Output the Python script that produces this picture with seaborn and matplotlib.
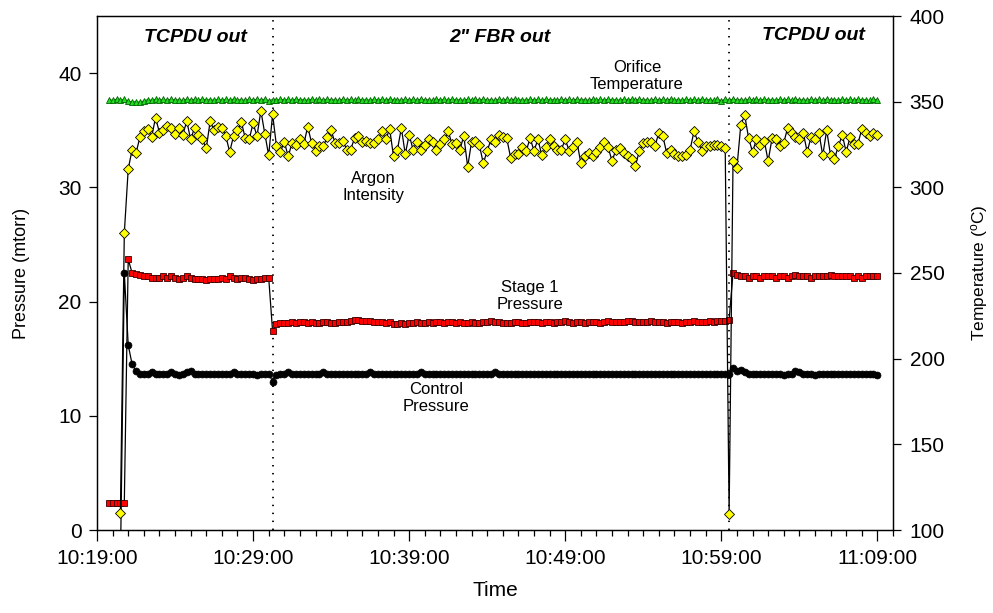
import numpy as np
import pandas as pd
import matplotlib
matplotlib.use("Agg")
import matplotlib.pyplot as plt
import matplotlib.dates as mdates
import seaborn as sns

# ---------------- data ----------------
start_time = "2000-01-01 10:19:45"
n_points = 198
sample_period = "15s"

argon_intensity = [
    np.nan, np.nan, np.nan, 1.5, 26.0,
    31.6, 33.3, 33.0, 34.4, 34.9, 35.1, 34.4, 36.1, 34.8, 35.0,
    35.4, 35.2, 34.7, 35.2, 34.6, 35.8, 34.2, 35.2, 34.6, 34.2,
    33.4, 35.8, 35.0, 35.3, 35.2, 34.5, 33.1, 34.5, 35.0, 35.7,
    34.3, 34.2, 35.6, 34.5, 36.7, 34.7, 32.8, 36.4, 33.6, 33.1,
    34.0, 32.7, 33.9, 33.7, 34.2, 33.8, 35.3, 33.9, 33.2, 33.6,
    33.6, 34.4, 35.0, 33.9, 33.9, 34.1, 33.3, 33.3, 34.3, 34.5,
    34.0, 34.1, 33.9, 33.9, 34.2, 34.9, 34.2, 35.1, 32.7, 33.3,
    35.2, 32.9, 34.6, 33.3, 34.0, 33.3, 33.7, 34.2, 34.0, 33.3,
    33.8, 34.2, 34.9, 33.8, 33.9, 33.3, 34.5, 31.8, 34.0, 34.1,
    33.7, 32.1, 33.2, 34.2, 34.0, 34.6, 34.4, 34.3, 32.6, 32.9,
    32.9, 33.5, 33.2, 34.3, 33.2, 34.2, 32.8, 33.5, 34.2, 33.6,
    33.3, 33.3, 34.2, 33.2, 33.5, 34.0, 32.1, 32.7, 33.0, 32.7,
    33.1, 33.5, 34.0, 33.5, 32.3, 33.3, 33.4, 33.0, 32.7, 32.5,
    31.9, 33.2, 33.9, 34.0, 34.0, 33.6, 34.8, 34.5, 33.0, 33.3,
    32.9, 32.7, 32.7, 32.8, 33.3, 34.9, 34.0, 33.2, 33.6, 33.6,
    33.7, 33.7, 33.6, 33.4, 1.4, 32.3, 31.7, 35.5, 36.3, 34.3,
    33.1, 34.2, 33.7, 34.1, 32.3, 34.3, 34.2, 33.6, 33.9, 35.2,
    34.8, 34.4, 34.2, 34.8, 33.1, 34.4, 34.2, 34.8, 32.8, 35.0,
    32.8, 32.5, 33.6, 34.6, 33.1, 34.4, 33.8, 33.8, 35.1, 34.8,
    34.5, 34.8, 34.6,
]

stage1_pressure = [
    2.4, 2.4, 2.4, 2.4, 2.4,
    23.7, 22.5, 22.4,
    22.3, 22.2, 22.2, 22.1, 22.1, 22.1, 22.2, 22.1, 22.2, 22.1,
    22.0, 22.1, 22.2, 22.1, 22.0, 22.0, 22.0, 21.9, 22.0, 22.0,
    22.0, 22.1, 22.0, 22.2, 22.1, 22.0, 22.1, 22.1, 22.0, 21.9,
    22.0, 22.0, 22.1, 22.1,
    17.4,
    18.0, 18.1, 18.1, 18.1, 18.2, 18.1, 18.2, 18.2, 18.1, 18.2,
    18.1, 18.1, 18.2, 18.2, 18.1, 18.1, 18.2, 18.2, 18.2, 18.3,
    18.4, 18.4, 18.3, 18.3, 18.3, 18.2, 18.2, 18.2, 18.1, 18.2,
    18.0, 18.0, 18.1, 18.0, 18.1, 18.1, 18.2, 18.1, 18.1, 18.2,
    18.1, 18.2, 18.2, 18.1, 18.2, 18.2, 18.1, 18.2, 18.1, 18.1,
    18.2, 18.1, 18.1, 18.2, 18.2, 18.3, 18.2, 18.2, 18.1, 18.1,
    18.1, 18.2, 18.2, 18.1, 18.1, 18.2, 18.2, 18.2, 18.1, 18.2,
    18.2, 18.1, 18.2, 18.2, 18.3, 18.2, 18.1, 18.2, 18.2, 18.1,
    18.2, 18.2, 18.2, 18.1, 18.2, 18.3, 18.2, 18.2, 18.2, 18.2,
    18.3, 18.3, 18.2, 18.2, 18.2, 18.2, 18.3, 18.2, 18.2, 18.2,
    18.1, 18.2, 18.2, 18.2, 18.1, 18.2, 18.2, 18.3, 18.2, 18.2,
    18.2, 18.3, 18.2, 18.3, 18.3, 18.3,
    18.4, 22.5,
    22.3, 22.2, 22.2, 22.1, 22.2, 22.2, 22.1, 22.2, 22.2, 22.2,
    22.1, 22.2, 22.2, 22.1, 22.2, 22.3, 22.2, 22.2, 22.2, 22.1,
    22.2, 22.2, 22.2, 22.2, 22.3, 22.2, 22.2, 22.2, 22.2, 22.2,
    22.1, 22.2, 22.1, 22.2, 22.2, 22.2, 22.2,
]

control_pressure = [
    -3.0, -3.0, -3.0, -3.0,
    22.5, 16.2, 14.5, 13.9,
    13.7, 13.7, 13.7, 13.8, 13.7, 13.7, 13.7, 13.7, 13.8, 13.7,
    13.6, 13.7, 13.8, 13.9, 13.7, 13.7, 13.7, 13.7, 13.7, 13.7,
    13.7, 13.7, 13.7, 13.7, 13.8, 13.7, 13.7, 13.7, 13.7, 13.7,
    13.6, 13.7, 13.7, 13.7,
    13.0, 13.6,
    13.7, 13.7, 13.8, 13.7, 13.7, 13.7, 13.7, 13.7, 13.7, 13.7,
    13.7, 13.8, 13.7, 13.7, 13.7, 13.7, 13.7, 13.7, 13.7, 13.7,
    13.7, 13.7, 13.7, 13.8, 13.7, 13.7, 13.7, 13.7, 13.7, 13.7,
    13.7, 13.7, 13.7, 13.7, 13.7, 13.7, 13.8, 13.7, 13.7, 13.7,
    13.7, 13.7, 13.7, 13.7, 13.7, 13.7, 13.7, 13.7, 13.7, 13.7,
    13.7, 13.7, 13.7, 13.7, 13.7, 13.8, 13.7, 13.7, 13.7, 13.7,
    13.7, 13.7, 13.7, 13.7, 13.7, 13.7, 13.7, 13.7, 13.7, 13.7,
    13.7, 13.7, 13.7, 13.7, 13.7, 13.7, 13.7, 13.7, 13.7, 13.7,
    13.7, 13.7, 13.7, 13.7, 13.7, 13.7, 13.7, 13.7, 13.7, 13.7,
    13.7, 13.7, 13.7, 13.7, 13.7, 13.7, 13.7, 13.7, 13.7, 13.7,
    13.7, 13.7, 13.7, 13.7, 13.7, 13.7, 13.7, 13.7, 13.7, 13.7,
    13.7, 13.7, 13.7, 13.7, 13.7, 13.7,
    14.2, 13.9, 14.0,
    13.8, 13.7, 13.7, 13.7, 13.7, 13.7, 13.7, 13.7, 13.7, 13.7,
    13.6, 13.7, 13.7, 13.9, 13.8, 13.7, 13.7, 13.7, 13.6, 13.7,
    13.7, 13.7, 13.7, 13.7, 13.7, 13.7, 13.7, 13.7, 13.7, 13.7,
    13.7, 13.7, 13.7, 13.7, 13.6,
]

orifice_temperature = [
    351.2, 350.8, 351.4, 350.9, 351.3, 350.2, 349.8, 350.0, 349.7, 350.4,
    351.2, 350.8, 351.4, 350.9, 351.3, 350.8, 351.5, 350.9, 351.2, 350.7,
    351.4, 350.9, 351.3, 350.8, 351.5, 350.9, 351.2, 350.8, 351.4, 350.9,
    351.3, 350.8, 351.5, 350.9, 351.2, 350.7, 351.4, 350.9, 351.3, 350.8,
    351.5, 350.6, 351.2, 350.8, 351.4, 350.9, 351.3, 350.8, 351.5, 350.9,
    351.2, 350.8, 351.4, 350.9, 351.3, 350.8, 351.5, 350.9, 351.2, 350.7,
    351.4, 350.9, 351.3, 350.8, 351.5, 350.9, 351.2, 350.8, 351.4, 350.9,
    351.3, 350.8, 351.5, 350.9, 351.2, 350.7, 351.4, 350.9, 351.3, 350.8,
    351.5, 350.9, 351.2, 350.8, 351.4, 350.9, 351.3, 350.8, 351.5, 350.9,
    351.2, 350.8, 351.4, 350.9, 351.3, 350.8, 351.5, 350.9, 351.2, 350.7,
    351.4, 350.9, 351.3, 350.8, 351.5, 350.9, 351.2, 350.8, 351.4, 350.9,
    351.3, 350.8, 351.5, 350.9, 351.2, 350.7, 351.4, 350.9, 351.3, 350.8,
    351.5, 350.9, 351.2, 350.8, 351.4, 350.9, 351.3, 350.8, 351.5, 350.9,
    351.2, 350.8, 351.4, 350.9, 351.3, 350.8, 351.5, 350.9, 351.2, 350.7,
    351.4, 350.9, 351.3, 350.8, 351.5, 350.9, 351.2, 350.8, 351.4, 350.9,
    351.3, 350.8, 351.5, 350.9, 351.2, 350.7, 351.4, 350.6, 351.3, 350.8,
    351.5, 350.9, 351.2, 350.8, 351.4, 350.9, 351.3, 350.8, 351.5, 350.9,
    351.2, 350.8, 351.4, 350.9, 351.3, 350.8, 351.5, 350.9, 351.2, 350.7,
    351.4, 350.9, 351.3, 350.8, 351.5, 350.9, 351.2, 350.8, 351.4, 350.9,
    351.3, 350.8, 351.5, 350.9, 351.2, 350.7, 351.4, 351.0,
]

event_times = ["2000-01-01 10:30:15", "2000-01-01 10:59:30"]
section_labels = ["TCPDU out", '2" FBR out', "TCPDU out"]
series_labels = ["Orifice\nTemperature", "Argon\nIntensity",
                 "Stage 1\nPressure", "Control\nPressure"]
x_range = ["2000-01-01 10:19:00", "2000-01-01 11:10:00"]
major_minutes = [9, 19, 29, 39, 49, 59]
pressure_ticks = [0, 10, 20, 30, 40]
temperature_ticks = [100, 150, 200, 250, 300, 350, 400]

for name, arr in [("argon", argon_intensity), ("stage1", stage1_pressure),
                  ("control", control_pressure), ("temp", orifice_temperature)]:
    assert len(arr) == n_points, (name, len(arr))

times = pd.date_range(start_time, periods=n_points, freq=sample_period)
df = pd.DataFrame({
    "time": times,
    "argon": argon_intensity,
    "stage1": stage1_pressure,
    "control": control_pressure,
    "temp": orifice_temperature,
})

# ---------------- style ----------------
sns.set_style("ticks")
plt.rcParams["font.family"] = ["Liberation Sans", "DejaVu Sans"]
plt.rcParams["mathtext.fontset"] = "custom"
plt.rcParams["mathtext.rm"] = "Liberation Sans"
plt.rcParams["mathtext.it"] = "Liberation Sans:italic"
plt.rcParams["axes.linewidth"] = 0.9
plt.rcParams["axes.edgecolor"] = "black"
plt.rcParams["text.color"] = "black"
plt.rcParams["axes.labelcolor"] = "black"
plt.rcParams["xtick.color"] = "black"
plt.rcParams["ytick.color"] = "black"

W, H = 993, 613
fig = plt.figure(figsize=(W / 100, H / 100), dpi=100)
L, R, T, B = 97, 893, 16, 530
ax = fig.add_axes([L / W, 1 - B / H, (R - L) / W, (B - T) / H])
ax2 = ax.twinx()

# control pressure (black circles)
sns.lineplot(data=df, x="time", y="control", ax=ax, color="black", lw=0.9,
             marker="o", markersize=5.0, markerfacecolor="black",
             markeredgecolor="black", markeredgewidth=0.5,
             estimator=None, sort=False, zorder=3)
# stage 1 pressure (red squares)
sns.lineplot(data=df, x="time", y="stage1", ax=ax, color="black", lw=0.9,
             marker="s", markersize=4.2, markerfacecolor="#ff0000",
             markeredgecolor="#3a0000", markeredgewidth=0.6,
             estimator=None, sort=False, zorder=4)
# argon intensity (yellow diamonds)
sns.lineplot(data=df, x="time", y="argon", ax=ax, color="black", lw=0.9,
             marker="D", markersize=4.8, markerfacecolor="#ffff00",
             markeredgecolor="black", markeredgewidth=0.6,
             estimator=None, sort=False, zorder=5)
# orifice temperature (green triangles) on right axis
sns.lineplot(data=df, x="time", y="temp", ax=ax2, color="#007a00", lw=0.8,
             marker="^", markersize=4.6, markerfacecolor="#22dd22",
             markeredgecolor="#006400", markeredgewidth=0.6,
             estimator=None, sort=False)

for et in event_times:
    ax.axvline(pd.Timestamp(et), color="black", lw=1.3,
               linestyle=(0, (0.8, 3.6)), zorder=2)

ax.set_xlim(pd.Timestamp(x_range[0]), pd.Timestamp(x_range[1]))
ax.set_ylim(0, 45)
ax.set_yticks(pressure_ticks)
ax2.set_ylim(100, 400)
ax2.set_yticks(temperature_ticks)

ax.xaxis.set_major_locator(mdates.MinuteLocator(byminute=major_minutes))
ax.xaxis.set_minor_locator(mdates.MinuteLocator())
ax.xaxis.set_major_formatter(mdates.DateFormatter("%H:%M:%S"))

ax.tick_params(axis="x", which="major", direction="out", length=8, width=0.9,
               labelsize=15, pad=6, bottom=True, top=False)
ax.tick_params(axis="x", which="minor", direction="out", length=4.5, width=0.9,
               bottom=True, top=False)
ax.tick_params(axis="y", which="major", direction="out", length=6, width=0.9,
               labelsize=15, pad=5, left=True, right=False)
ax2.tick_params(axis="y", which="major", direction="out", length=6, width=0.9,
                labelsize=15, pad=6, right=True, left=False)
for a in (ax, ax2):
    for s in a.spines.values():
        s.set_visible(True)
        s.set_color("black")
        s.set_linewidth(0.9)

ax.set_xlabel("Time", fontsize=15, va="center")
ax.xaxis.set_label_coords(0.5, (B - 590) / (B - T))
ax.set_ylabel("Pressure (mtorr)", fontsize=13, va="center")
ax.yaxis.set_label_coords((22 - L) / (R - L), 0.5)
ax2.set_ylabel(r"Temperature ($^{\mathrm{o}}$C)", fontsize=12.5, va="center",
               rotation=90)
ax2.yaxis.set_label_coords((980 - L) / (R - L), 0.5)
ax2.set_xlabel("")


def axpos(px, py):
    return (px - L) / (R - L), (B - py) / (B - T)


for (px, py), txt in zip([(195, 38), (500, 38), (813, 36)], section_labels):
    x, y = axpos(px, py)
    ax.text(x, y, txt, transform=ax.transAxes, ha="center", va="center",
            fontsize=14, fontweight="bold", fontstyle="italic")

for (px, py), txt in zip([(637, 76), (373, 187), (530, 296), (436, 398)],
                         series_labels):
    x, y = axpos(px, py)
    ax.text(x, y, txt, transform=ax.transAxes, ha="center", va="center",
            fontsize=12, linespacing=1.15)

fig.savefig("out.png", dpi=100)
